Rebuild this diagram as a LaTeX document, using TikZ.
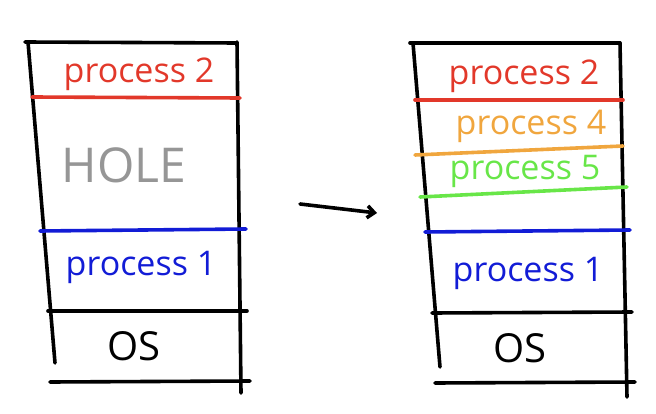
\documentclass[tikz,border=0pt]{standalone}
\usepackage[RGB]{xcolor}
\usepackage{fontspec}
\setmainfont{Open Sans}
\usetikzlibrary{arrows.meta}
\newcommand{\drawthick}{\draw[line width=3.6pt, line cap=round]}
\newcommand{\memtext}[5]{\node[text=#2, font=\fontsize{#3}{#3}\selectfont] (#1) at (#4) {#5};}
\definecolor{P2}{RGB}{226,56,42}
\definecolor{P4}{RGB}{240,166,62}
\definecolor{P5}{RGB}{104,230,72}
\definecolor{P1}{RGB}{18,28,214}
\definecolor{HL}{RGB}{150,150,150}
\definecolor{OS}{RGB}{0,0,0}

\begin{document}
\begin{tikzpicture}[x=1pt,y=-1pt]
\useasboundingbox (0,0) rectangle (656,414);
% before
\drawthick (25,42)--(237,43);
    \drawthick (28,42)--(55,363);
    \drawthick (237,42)--(241,393);
    \drawthick[P2] (32,97)--(240,98);
    \drawthick[P1] (40,231)--(246,229);
    \drawthick (48,311)--(247,311);
    \drawthick (50,382)--(250,381);
\memtext{lp2}{P2}{34}{139,74}{process 2}\memtext{hole}{HL}{48}{124,165}{HOLE}\memtext{lp1}{P1}{34}{141,267}{process 1}\memtext{los}{OS}{40}{134,346}{OS}
% after
\drawthick (410,43)--(620,43);
    \drawthick (413,43)--(440,367);
    \drawthick (620,43)--(627,397);
    \drawthick[P2] (415,100)--(623,100);
    \drawthick[P4] (415,155)--(623,146);
    \drawthick[P5] (420,197)--(627,187);
    \drawthick[P1] (425,232)--(630,230);
    \drawthick (432,313)--(632,312);
    \drawthick (435,383)--(635,382);
\memtext{rp2}{P2}{34}{524,76}{process 2}\memtext{rp4}{P4}{34}{531,126}{process 4}\memtext{rp5}{P5}{34}{525,171}{process 5}\memtext{rp1}{P1}{34}{528,273}{process 1}\memtext{ros}{OS}{40}{520,348}{OS}
\coordinate (from) at (300,204);
\coordinate (to) at (377,213);
\drawthick[-{Straight Barb[length=7pt,width=12pt]}] (from)--(to);
\end{tikzpicture}
\end{document}
